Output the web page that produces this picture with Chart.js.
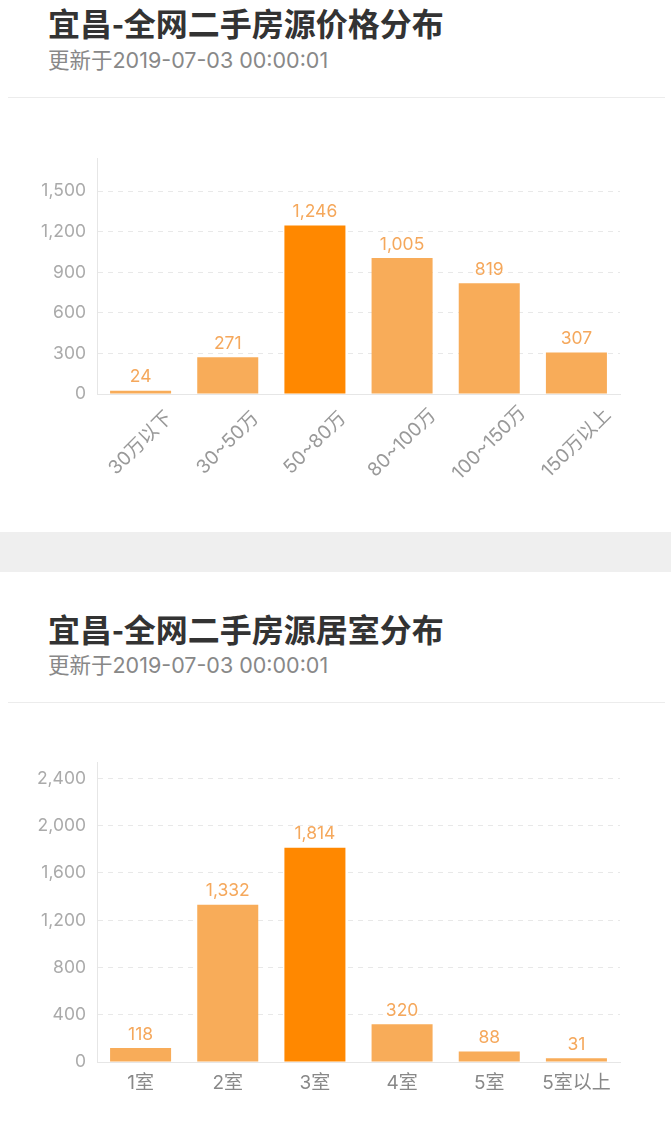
<!DOCTYPE html>
<html lang="zh">
<head>
    <meta charset="UTF-8">
    <title>宜昌-全网二手房源分布</title>
    <script src="https://cdn.jsdelivr.net/npm/chart.js"></script>
    <style>
        body { margin: 0; width: 671px; height: 1127px; position: relative; background: #fff;
               font-family: Inter, "Noto Sans CJK SC", sans-serif; overflow: hidden; }
        .title { position: absolute; left: 48px; font-size: 32px; font-weight: bold; color: #333; line-height: 36px; margin: 0;
                 font-family: "Noto Sans CJK SC", sans-serif; }
        .sub { position: absolute; left: 48px; font-size: 21.5px; color: #888; line-height: 24px; }
        .sep { position: absolute; left: 8px; width: 657px; height: 1px; background: #ececec; }
        .band { position: absolute; left: 0; width: 671px; top: 532px; height: 40px; background: #efefef; }
        .box { position: absolute; left: 0; width: 671px; height: 400px; }
    </style>
</head>
<body>
    <div class="title" style="top:4px">宜昌-全网二手房源价格分布</div>
    <div class="sub" style="top:48px">更新于2019-07-03 00:00:01</div>
    <div class="sep" style="top:97px"></div>
    <div class="box" style="top:130px"><canvas id="priceChart"></canvas></div>

    <div class="band"></div>

    <div class="title" style="top:610px">宜昌-全网二手房源居室分布</div>
    <div class="sub" style="top:653px">更新于2019-07-03 00:00:01</div>
    <div class="sep" style="top:702px"></div>
    <div class="box" style="top:720px"><canvas id="roomChart"></canvas></div>

    <script>
        // price ranges
        const priceLabels = ['30万以下', '30~50万', '50~80万', '80~100万', '100~150万', '150万以上'];
        const priceCounts = [24, 271, 1246, 1005, 819, 307];

        // room counts
        const roomLabels = ['1室', '2室', '3室', '4室', '5室', '5室以上'];
        const roomCounts = [118, 1332, 1814, 320, 88, 31];

        const FONT = 'Inter, "Noto Sans CJK SC", sans-serif';
        const LIGHT = '#f8ac59';
        const DARK = '#ff8800';

        // value above each bar
        const valueLabels = {
            id: 'valueLabels',
            afterDatasetsDraw(chart) {
                const ctx = chart.ctx;
                const ds = chart.data.datasets[0];
                ctx.save();
                ctx.font = '17.5px ' + FONT;
                ctx.fillStyle = '#f5a85c';
                ctx.textAlign = 'center';
                ctx.textBaseline = 'bottom';
                chart.getDatasetMeta(0).data.forEach((bar, i) => {
                    ctx.fillText(ds.data[i].toLocaleString('en-US'), bar.x, bar.y - 5);
                });
                ctx.restore();
            }
        };

        // rotated x labels, centred under the tick
        const slantLabels = {
            id: 'slantLabels',
            afterDraw(chart) {
                if (!chart.options.slant) return;
                const ctx = chart.ctx;
                const x = chart.scales.x;
                ctx.save();
                ctx.font = '19px ' + FONT;
                ctx.fillStyle = '#999';
                ctx.textAlign = 'center';
                ctx.textBaseline = 'middle';
                chart.data.labels.forEach((lab, i) => {
                    ctx.save();
                    ctx.translate(x.getPixelForValue(i), x.top + 49);
                    ctx.rotate(-Math.PI / 4);
                    ctx.fillText(lab, 0, 0);
                    ctx.restore();
                });
                ctx.restore();
            }
        };

        function makeChart(id, labels, values, step, topPad, xHeight, slant) {
            const peak = Math.max(...values);
            return new Chart(document.getElementById(id), {
                type: 'bar',
                data: {
                    labels: labels,
                    datasets: [{
                        data: values,
                        backgroundColor: values.map(v => v === peak ? DARK : LIGHT),
                        barPercentage: 0.7,
                        categoryPercentage: 1
                    }]
                },
                plugins: [valueLabels, slantLabels],
                options: {
                    slant: slant,
                    responsive: true,
                    maintainAspectRatio: false,
                    animation: false,
                    layout: { padding: { top: topPad, right: 51, left: 0, bottom: 0 } },
                    plugins: { legend: { display: false }, tooltip: { enabled: false } },
                    scales: {
                        x: {
                            grid: { display: false, drawTicks: false },
                            border: { color: '#e6e6e6' },
                            ticks: {
                                display: !slant,
                                maxRotation: 0,
                                padding: 10,
                                color: '#888',
                                font: { family: FONT, size: 19 }
                            },
                            afterFit(s) { s.height = xHeight; }
                        },
                        y: {
                            min: 0,
                            max: peak * 1.4,
                            grid: { color: '#e8e8e8', drawTicks: false },
                            border: { color: '#e6e6e6', dash: [5, 5] },
                            ticks: {
                                padding: 11,
                                color: '#aaa',
                                font: { family: FONT, size: 17.5 },
                                callback: v => v.toLocaleString('en-US')
                            },
                            afterBuildTicks(s) {
                                const t = [];
                                for (let v = 0; v <= s.max; v += step) t.push({ value: v });
                                s.ticks = t;
                            },
                            afterFit(s) { s.width = 97; }
                        }
                    }
                }
            });
        }

        makeChart('priceChart', priceLabels, priceCounts, 300, 28, 136, true);
        makeChart('roomChart', roomLabels, roomCounts, 400, 42, 58, false);
    </script>
</body>
</html>
